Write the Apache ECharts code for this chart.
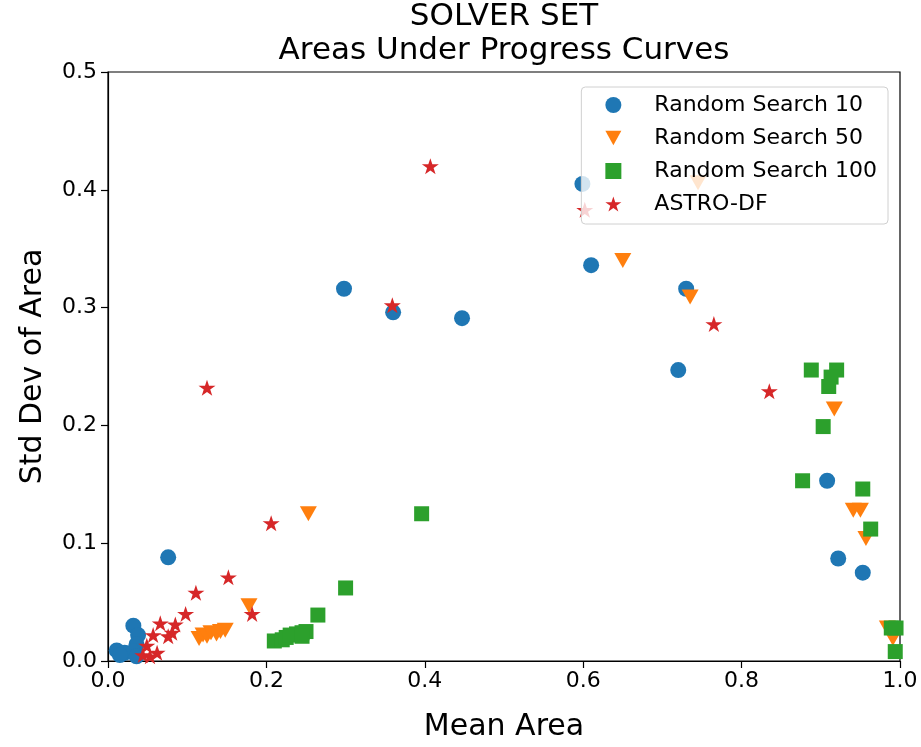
<!DOCTYPE html>
<html>
<head>
<meta charset="utf-8">
<script src="https://cdn.jsdelivr.net/npm/echarts@6/dist/echarts.min.js"></script>
<style>
  html, body { margin: 0; padding: 0; background: #fff; }
  #chart { width: 921px; height: 747px; }
</style>
</head>
<body>
<div id="chart"></div>
<script>
// mean area (x) and std dev of area (y) per solver
var rs10X = [0.599, 0.61, 0.298, 0.36, 0.447, 0.73, 0.72, 0.908, 0.922, 0.953, 0.076, 0.032, 0.038, 0.036, 0.011, 0.021, 0.032, 0.036, 0.015];
var rs10Y = [0.405, 0.336, 0.316, 0.296, 0.291, 0.316, 0.247, 0.153, 0.087, 0.075, 0.088, 0.030, 0.022, 0.014, 0.009, 0.007, 0.008, 0.004, 0.005];

var rs50X = [0.745, 0.65, 0.735, 0.917, 0.941, 0.95, 0.957, 0.984, 0.991, 0.253, 0.178, 0.115, 0.12, 0.125, 0.13, 0.137, 0.142, 0.148];
var rs50Y = [0.406, 0.340, 0.309, 0.214, 0.128, 0.128, 0.104, 0.028, 0.019, 0.125, 0.047, 0.019, 0.022, 0.021, 0.024, 0.023, 0.025, 0.026];

var rs100X = [0.888, 0.92, 0.913, 0.91, 0.903, 0.877, 0.953, 0.963, 0.989, 0.995, 0.994, 0.396, 0.3, 0.265, 0.21, 0.22, 0.225, 0.23, 0.238, 0.245, 0.25, 0.245];
var rs100Y = [0.247, 0.247, 0.241, 0.233, 0.199, 0.153, 0.146, 0.112, 0.028, 0.028, 0.008, 0.125, 0.062, 0.039, 0.017, 0.018, 0.020, 0.022, 0.023, 0.024, 0.025, 0.021];

var astroX = [0.407, 0.602, 0.359, 0.765, 0.835, 0.125, 0.206, 0.152, 0.182, 0.111, 0.098, 0.066, 0.085, 0.081, 0.057, 0.076, 0.049, 0.062, 0.044, 0.053];
var astroY = [0.420, 0.383, 0.302, 0.286, 0.229, 0.232, 0.117, 0.071, 0.040, 0.058, 0.040, 0.032, 0.031, 0.024, 0.022, 0.021, 0.013, 0.007, 0.005, 0.004];

var seriesNames = ['Random Search 10', 'Random Search 50', 'Random Search 100', 'ASTRO-DF'];

function pairs(xs, ys) {
    var out = [];
    for (var i = 0; i < xs.length; i++) {
        out.push([xs[i], ys[i]]);
    }
    return out;
}

// marker shapes (matplotlib-like 'v' and '*')
var triDownPath = 'path://M0,0 L20,0 L10,18 Z';
var starPath = 'path://M95,0 L116.3,65.6 L185.4,65.6 L129.5,106.2 L150.9,171.9 L95,131.3 L39.1,171.9 L60.5,106.2 L4.6,65.6 L73.7,65.6 Z';
var font = 'DejaVu Sans';

var myChart = echarts.init(document.getElementById('chart'));

var axisCommon = {
    nameLocation: 'middle',
    nameTextStyle: { fontFamily: font, fontSize: 30, color: '#000' },
    axisLine: { show: true, onZero: false, lineStyle: { color: '#000', width: 1.2 } },
    axisTick: { show: true, length: 7, lineStyle: { color: '#000', width: 1.2 } },
    splitLine: { show: false }
};

var option = {
    animation: false,
    backgroundColor: '#fff',
    title: {
        text: 'SOLVER SET\nAreas Under Progress Curves',
        left: 504,
        top: 0,
        padding: 0,
        textAlign: 'center',
        textStyle: {
            fontFamily: font,
            fontSize: 31,
            fontWeight: 'normal',
            color: '#000',
            lineHeight: 34
        }
    },
    legend: {
        orient: 'vertical',
        right: 33,
        top: 87,
        padding: [7, 11, 9, 24],
        itemGap: 11,
        itemWidth: 16,
        itemHeight: 16,
        backgroundColor: 'rgba(255,255,255,0.8)',
        borderColor: '#d0d0d0',
        borderWidth: 1,
        borderRadius: 4,
        data: seriesNames,
        textStyle: {
            fontFamily: font,
            fontSize: 22,
            color: '#000',
            padding: [0, 0, 0, 28]
        }
    },
    grid: {
        left: 108,
        right: 21,
        top: 72,
        bottom: 84,
        show: true,
        borderColor: '#000',
        borderWidth: 1.2,
        containLabel: false
    },
    xAxis: Object.assign({}, axisCommon, {
        type: 'value',
        min: 0,
        max: 1,
        interval: 0.2,
        name: 'Mean Area',
        nameGap: 51,
        axisLabel: {
            fontFamily: font,
            fontSize: 22,
            color: '#000',
            margin: 9,
            formatter: function (v) { return v.toFixed(1); }
        }
    }),
    yAxis: Object.assign({}, axisCommon, {
        type: 'value',
        min: 0,
        max: 0.5,
        interval: 0.1,
        name: 'Std Dev of Area',
        nameGap: 60,
        axisLabel: {
            fontFamily: font,
            fontSize: 22,
            color: '#000',
            margin: 11,
            formatter: function (v) { return v.toFixed(1); }
        }
    }),
    series: [
        {
            name: seriesNames[0],
            type: 'scatter',
            symbol: 'circle',
            symbolSize: 16,
            itemStyle: { color: '#1f77b4', opacity: 1 },
            data: pairs(rs10X, rs10Y)
        },
        {
            name: seriesNames[1],
            type: 'scatter',
            symbol: triDownPath,
            symbolSize: [17, 15],
            itemStyle: { color: '#ff7f0e', opacity: 1 },
            data: pairs(rs50X, rs50Y)
        },
        {
            name: seriesNames[2],
            type: 'scatter',
            symbol: 'rect',
            symbolSize: 15,
            itemStyle: { color: '#2ca02c', opacity: 1 },
            data: pairs(rs100X, rs100Y)
        },
        {
            name: seriesNames[3],
            type: 'scatter',
            symbol: starPath,
            symbolSize: [17, 16],
            itemStyle: { color: '#d62728', opacity: 1 },
            data: pairs(astroX, astroY)
        }
    ]
};

myChart.setOption(option);
</script>
</body>
</html>
